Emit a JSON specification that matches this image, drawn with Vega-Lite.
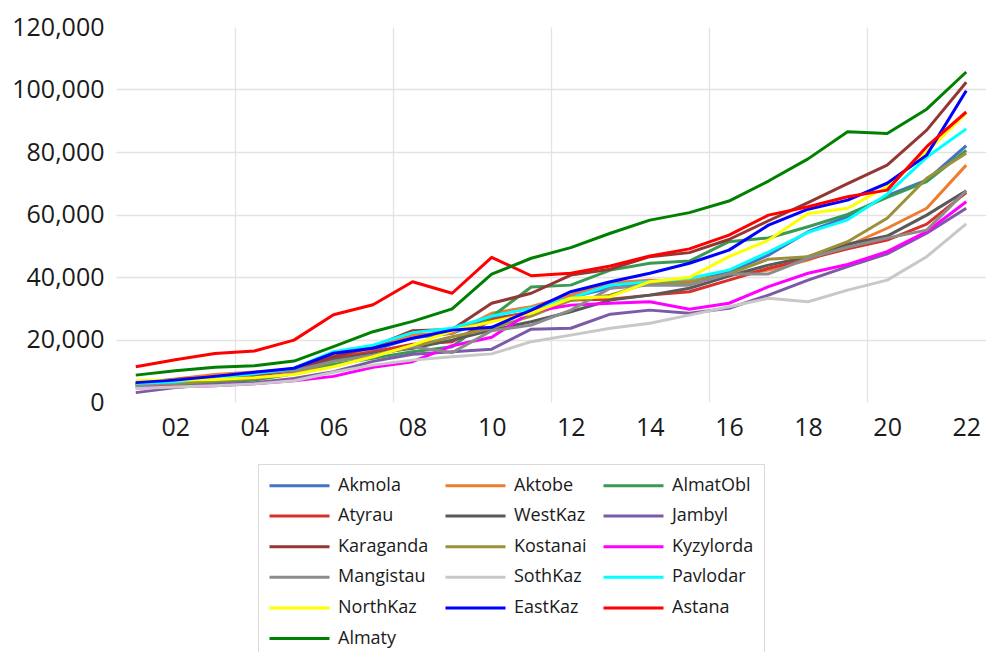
{
"$schema": "https://vega.github.io/schema/vega-lite/v6.json",
"width": 870, "height": 375,
"autosize": {"type": "none"},
"padding": {"left": 116, "top": 27, "right": 0, "bottom": 250},
"background": "white",
"config": {"view": {"stroke": null}, "font": "Open Sans"},
"datasets": {"d": [
{"r":"Akmola","y":2001,"v":5800},{"r":"Akmola","y":2002,"v":6800},{"r":"Akmola","y":2003,"v":7700},{"r":"Akmola","y":2004,"v":8800},{"r":"Akmola","y":2005,"v":10000},{"r":"Akmola","y":2006,"v":14000},{"r":"Akmola","y":2007,"v":16500},{"r":"Akmola","y":2008,"v":20500},{"r":"Akmola","y":2009,"v":22000},{"r":"Akmola","y":2010,"v":26800},{"r":"Akmola","y":2011,"v":28500},{"r":"Akmola","y":2012,"v":33500},{"r":"Akmola","y":2013,"v":36500},{"r":"Akmola","y":2014,"v":38000},{"r":"Akmola","y":2015,"v":38500},{"r":"Akmola","y":2016,"v":41500},{"r":"Akmola","y":2017,"v":47000},{"r":"Akmola","y":2018,"v":54500},{"r":"Akmola","y":2019,"v":59300},{"r":"Akmola","y":2020,"v":66000},{"r":"Akmola","y":2021,"v":71000},{"r":"Akmola","y":2022,"v":82000},
{"r":"Aktobe","y":2001,"v":6000},{"r":"Aktobe","y":2002,"v":7400},{"r":"Aktobe","y":2003,"v":8800},{"r":"Aktobe","y":2004,"v":9600},{"r":"Aktobe","y":2005,"v":10500},{"r":"Aktobe","y":2006,"v":14500},{"r":"Aktobe","y":2007,"v":17000},{"r":"Aktobe","y":2008,"v":21500},{"r":"Aktobe","y":2009,"v":22000},{"r":"Aktobe","y":2010,"v":28400},{"r":"Aktobe","y":2011,"v":30500},{"r":"Aktobe","y":2012,"v":34200},{"r":"Aktobe","y":2013,"v":38200},{"r":"Aktobe","y":2014,"v":39000},{"r":"Aktobe","y":2015,"v":38800},{"r":"Aktobe","y":2016,"v":40600},{"r":"Aktobe","y":2017,"v":42200},{"r":"Aktobe","y":2018,"v":45400},{"r":"Aktobe","y":2019,"v":50000},{"r":"Aktobe","y":2020,"v":55600},{"r":"Aktobe","y":2021,"v":62000},{"r":"Aktobe","y":2022,"v":75800},
{"r":"AlmatObl","y":2001,"v":5000},{"r":"AlmatObl","y":2002,"v":5500},{"r":"AlmatObl","y":2003,"v":6200},{"r":"AlmatObl","y":2004,"v":7000},{"r":"AlmatObl","y":2005,"v":9000},{"r":"AlmatObl","y":2006,"v":12000},{"r":"AlmatObl","y":2007,"v":14000},{"r":"AlmatObl","y":2008,"v":16100},{"r":"AlmatObl","y":2009,"v":17700},{"r":"AlmatObl","y":2010,"v":27300},{"r":"AlmatObl","y":2011,"v":36800},{"r":"AlmatObl","y":2012,"v":37400},{"r":"AlmatObl","y":2013,"v":42200},{"r":"AlmatObl","y":2014,"v":44400},{"r":"AlmatObl","y":2015,"v":45100},{"r":"AlmatObl","y":2016,"v":51300},{"r":"AlmatObl","y":2017,"v":52500},{"r":"AlmatObl","y":2018,"v":56100},{"r":"AlmatObl","y":2019,"v":60000},{"r":"AlmatObl","y":2020,"v":65500},{"r":"AlmatObl","y":2021,"v":70500},{"r":"AlmatObl","y":2022,"v":80500},
{"r":"Atyrau","y":2001,"v":5800},{"r":"Atyrau","y":2002,"v":6500},{"r":"Atyrau","y":2003,"v":7500},{"r":"Atyrau","y":2004,"v":8500},{"r":"Atyrau","y":2005,"v":10000},{"r":"Atyrau","y":2006,"v":14000},{"r":"Atyrau","y":2007,"v":16000},{"r":"Atyrau","y":2008,"v":18500},{"r":"Atyrau","y":2009,"v":19300},{"r":"Atyrau","y":2010,"v":26200},{"r":"Atyrau","y":2011,"v":29000},{"r":"Atyrau","y":2012,"v":32600},{"r":"Atyrau","y":2013,"v":32900},{"r":"Atyrau","y":2014,"v":34200},{"r":"Atyrau","y":2015,"v":35300},{"r":"Atyrau","y":2016,"v":39000},{"r":"Atyrau","y":2017,"v":42800},{"r":"Atyrau","y":2018,"v":45800},{"r":"Atyrau","y":2019,"v":49000},{"r":"Atyrau","y":2020,"v":51800},{"r":"Atyrau","y":2021,"v":56900},{"r":"Atyrau","y":2022,"v":67000},
{"r":"WestKaz","y":2001,"v":5500},{"r":"WestKaz","y":2002,"v":6700},{"r":"WestKaz","y":2003,"v":7800},{"r":"WestKaz","y":2004,"v":9000},{"r":"WestKaz","y":2005,"v":10200},{"r":"WestKaz","y":2006,"v":13500},{"r":"WestKaz","y":2007,"v":15500},{"r":"WestKaz","y":2008,"v":17200},{"r":"WestKaz","y":2009,"v":19800},{"r":"WestKaz","y":2010,"v":23000},{"r":"WestKaz","y":2011,"v":25700},{"r":"WestKaz","y":2012,"v":28900},{"r":"WestKaz","y":2013,"v":32600},{"r":"WestKaz","y":2014,"v":34200},{"r":"WestKaz","y":2015,"v":36400},{"r":"WestKaz","y":2016,"v":40300},{"r":"WestKaz","y":2017,"v":43800},{"r":"WestKaz","y":2018,"v":46500},{"r":"WestKaz","y":2019,"v":50500},{"r":"WestKaz","y":2020,"v":53100},{"r":"WestKaz","y":2021,"v":59800},{"r":"WestKaz","y":2022,"v":67600},
{"r":"Jambyl","y":2001,"v":3000},{"r":"Jambyl","y":2002,"v":4600},{"r":"Jambyl","y":2003,"v":5600},{"r":"Jambyl","y":2004,"v":6200},{"r":"Jambyl","y":2005,"v":7500},{"r":"Jambyl","y":2006,"v":9700},{"r":"Jambyl","y":2007,"v":13000},{"r":"Jambyl","y":2008,"v":15300},{"r":"Jambyl","y":2009,"v":16100},{"r":"Jambyl","y":2010,"v":16900},{"r":"Jambyl","y":2011,"v":23300},{"r":"Jambyl","y":2012,"v":23600},{"r":"Jambyl","y":2013,"v":28100},{"r":"Jambyl","y":2014,"v":29400},{"r":"Jambyl","y":2015,"v":28400},{"r":"Jambyl","y":2016,"v":30000},{"r":"Jambyl","y":2017,"v":34200},{"r":"Jambyl","y":2018,"v":39000},{"r":"Jambyl","y":2019,"v":43300},{"r":"Jambyl","y":2020,"v":47400},{"r":"Jambyl","y":2021,"v":54000},{"r":"Jambyl","y":2022,"v":62000},
{"r":"Karaganda","y":2001,"v":6000},{"r":"Karaganda","y":2002,"v":7200},{"r":"Karaganda","y":2003,"v":8000},{"r":"Karaganda","y":2004,"v":9000},{"r":"Karaganda","y":2005,"v":10500},{"r":"Karaganda","y":2006,"v":14500},{"r":"Karaganda","y":2007,"v":17700},{"r":"Karaganda","y":2008,"v":22800},{"r":"Karaganda","y":2009,"v":23200},{"r":"Karaganda","y":2010,"v":31600},{"r":"Karaganda","y":2011,"v":34800},{"r":"Karaganda","y":2012,"v":40600},{"r":"Karaganda","y":2013,"v":42500},{"r":"Karaganda","y":2014,"v":46500},{"r":"Karaganda","y":2015,"v":47800},{"r":"Karaganda","y":2016,"v":52000},{"r":"Karaganda","y":2017,"v":58000},{"r":"Karaganda","y":2018,"v":63800},{"r":"Karaganda","y":2019,"v":69900},{"r":"Karaganda","y":2020,"v":75800},{"r":"Karaganda","y":2021,"v":87000},{"r":"Karaganda","y":2022,"v":102300},
{"r":"Kostanai","y":2001,"v":5200},{"r":"Kostanai","y":2002,"v":5800},{"r":"Kostanai","y":2003,"v":6800},{"r":"Kostanai","y":2004,"v":7500},{"r":"Kostanai","y":2005,"v":9000},{"r":"Kostanai","y":2006,"v":13000},{"r":"Kostanai","y":2007,"v":15000},{"r":"Kostanai","y":2008,"v":17700},{"r":"Kostanai","y":2009,"v":20900},{"r":"Kostanai","y":2010,"v":23600},{"r":"Kostanai","y":2011,"v":27500},{"r":"Kostanai","y":2012,"v":32500},{"r":"Kostanai","y":2013,"v":34200},{"r":"Kostanai","y":2014,"v":38200},{"r":"Kostanai","y":2015,"v":38200},{"r":"Kostanai","y":2016,"v":41000},{"r":"Kostanai","y":2017,"v":45700},{"r":"Kostanai","y":2018,"v":46500},{"r":"Kostanai","y":2019,"v":51300},{"r":"Kostanai","y":2020,"v":58800},{"r":"Kostanai","y":2021,"v":71600},{"r":"Kostanai","y":2022,"v":79600},
{"r":"Kyzylorda","y":2001,"v":4500},{"r":"Kyzylorda","y":2002,"v":4900},{"r":"Kyzylorda","y":2003,"v":5200},{"r":"Kyzylorda","y":2004,"v":5800},{"r":"Kyzylorda","y":2005,"v":6800},{"r":"Kyzylorda","y":2006,"v":8200},{"r":"Kyzylorda","y":2007,"v":11100},{"r":"Kyzylorda","y":2008,"v":12900},{"r":"Kyzylorda","y":2009,"v":18000},{"r":"Kyzylorda","y":2010,"v":20700},{"r":"Kyzylorda","y":2011,"v":28900},{"r":"Kyzylorda","y":2012,"v":31000},{"r":"Kyzylorda","y":2013,"v":31600},{"r":"Kyzylorda","y":2014,"v":32100},{"r":"Kyzylorda","y":2015,"v":29700},{"r":"Kyzylorda","y":2016,"v":31600},{"r":"Kyzylorda","y":2017,"v":36900},{"r":"Kyzylorda","y":2018,"v":41200},{"r":"Kyzylorda","y":2019,"v":44000},{"r":"Kyzylorda","y":2020,"v":48100},{"r":"Kyzylorda","y":2021,"v":54500},{"r":"Kyzylorda","y":2022,"v":64100},
{"r":"Mangistau","y":2001,"v":5300},{"r":"Mangistau","y":2002,"v":6400},{"r":"Mangistau","y":2003,"v":8000},{"r":"Mangistau","y":2004,"v":9200},{"r":"Mangistau","y":2005,"v":10000},{"r":"Mangistau","y":2006,"v":13000},{"r":"Mangistau","y":2007,"v":15000},{"r":"Mangistau","y":2008,"v":17700},{"r":"Mangistau","y":2009,"v":15800},{"r":"Mangistau","y":2010,"v":22800},{"r":"Mangistau","y":2011,"v":24600},{"r":"Mangistau","y":2012,"v":29400},{"r":"Mangistau","y":2013,"v":36400},{"r":"Mangistau","y":2014,"v":37400},{"r":"Mangistau","y":2015,"v":37400},{"r":"Mangistau","y":2016,"v":41000},{"r":"Mangistau","y":2017,"v":41000},{"r":"Mangistau","y":2018,"v":46000},{"r":"Mangistau","y":2019,"v":49500},{"r":"Mangistau","y":2020,"v":52500},{"r":"Mangistau","y":2021,"v":55000},{"r":"Mangistau","y":2022,"v":67600},
{"r":"SothKaz","y":2001,"v":4300},{"r":"SothKaz","y":2002,"v":4800},{"r":"SothKaz","y":2003,"v":5200},{"r":"SothKaz","y":2004,"v":5800},{"r":"SothKaz","y":2005,"v":6800},{"r":"SothKaz","y":2006,"v":9500},{"r":"SothKaz","y":2007,"v":11800},{"r":"SothKaz","y":2008,"v":13400},{"r":"SothKaz","y":2009,"v":14500},{"r":"SothKaz","y":2010,"v":15400},{"r":"SothKaz","y":2011,"v":19300},{"r":"SothKaz","y":2012,"v":21400},{"r":"SothKaz","y":2013,"v":23600},{"r":"SothKaz","y":2014,"v":25200},{"r":"SothKaz","y":2015,"v":27800},{"r":"SothKaz","y":2016,"v":30500},{"r":"SothKaz","y":2017,"v":33200},{"r":"SothKaz","y":2018,"v":32100},{"r":"SothKaz","y":2019,"v":35800},{"r":"SothKaz","y":2020,"v":39000},{"r":"SothKaz","y":2021,"v":46500},{"r":"SothKaz","y":2022,"v":57000},
{"r":"Pavlodar","y":2001,"v":6000},{"r":"Pavlodar","y":2002,"v":6500},{"r":"Pavlodar","y":2003,"v":7800},{"r":"Pavlodar","y":2004,"v":9000},{"r":"Pavlodar","y":2005,"v":10800},{"r":"Pavlodar","y":2006,"v":16100},{"r":"Pavlodar","y":2007,"v":18200},{"r":"Pavlodar","y":2008,"v":22200},{"r":"Pavlodar","y":2009,"v":23600},{"r":"Pavlodar","y":2010,"v":27500},{"r":"Pavlodar","y":2011,"v":30000},{"r":"Pavlodar","y":2012,"v":33200},{"r":"Pavlodar","y":2013,"v":37400},{"r":"Pavlodar","y":2014,"v":38500},{"r":"Pavlodar","y":2015,"v":39600},{"r":"Pavlodar","y":2016,"v":42200},{"r":"Pavlodar","y":2017,"v":48000},{"r":"Pavlodar","y":2018,"v":54300},{"r":"Pavlodar","y":2019,"v":58300},{"r":"Pavlodar","y":2020,"v":66500},{"r":"Pavlodar","y":2021,"v":78300},{"r":"Pavlodar","y":2022,"v":87400},
{"r":"NorthKaz","y":2001,"v":6900},{"r":"NorthKaz","y":2002,"v":7000},{"r":"NorthKaz","y":2003,"v":7200},{"r":"NorthKaz","y":2004,"v":7800},{"r":"NorthKaz","y":2005,"v":8800},{"r":"NorthKaz","y":2006,"v":11300},{"r":"NorthKaz","y":2007,"v":14500},{"r":"NorthKaz","y":2008,"v":18200},{"r":"NorthKaz","y":2009,"v":22800},{"r":"NorthKaz","y":2010,"v":25700},{"r":"NorthKaz","y":2011,"v":28400},{"r":"NorthKaz","y":2012,"v":33200},{"r":"NorthKaz","y":2013,"v":33700},{"r":"NorthKaz","y":2014,"v":38500},{"r":"NorthKaz","y":2015,"v":39900},{"r":"NorthKaz","y":2016,"v":46500},{"r":"NorthKaz","y":2017,"v":51800},{"r":"NorthKaz","y":2018,"v":60300},{"r":"NorthKaz","y":2019,"v":62000},{"r":"NorthKaz","y":2020,"v":68900},{"r":"NorthKaz","y":2021,"v":80000},{"r":"NorthKaz","y":2022,"v":92400},
{"r":"EastKaz","y":2001,"v":6200},{"r":"EastKaz","y":2002,"v":7000},{"r":"EastKaz","y":2003,"v":8200},{"r":"EastKaz","y":2004,"v":9500},{"r":"EastKaz","y":2005,"v":10800},{"r":"EastKaz","y":2006,"v":15600},{"r":"EastKaz","y":2007,"v":17200},{"r":"EastKaz","y":2008,"v":20400},{"r":"EastKaz","y":2009,"v":23000},{"r":"EastKaz","y":2010,"v":23900},{"r":"EastKaz","y":2011,"v":29400},{"r":"EastKaz","y":2012,"v":35300},{"r":"EastKaz","y":2013,"v":38500},{"r":"EastKaz","y":2014,"v":41200},{"r":"EastKaz","y":2015,"v":44400},{"r":"EastKaz","y":2016,"v":48600},{"r":"EastKaz","y":2017,"v":56600},{"r":"EastKaz","y":2018,"v":61700},{"r":"EastKaz","y":2019,"v":64600},{"r":"EastKaz","y":2020,"v":70000},{"r":"EastKaz","y":2021,"v":79000},{"r":"EastKaz","y":2022,"v":99600},
{"r":"Astana","y":2001,"v":11300},{"r":"Astana","y":2002,"v":13500},{"r":"Astana","y":2003,"v":15500},{"r":"Astana","y":2004,"v":16300},{"r":"Astana","y":2005,"v":19800},{"r":"Astana","y":2006,"v":27900},{"r":"Astana","y":2007,"v":31100},{"r":"Astana","y":2008,"v":38500},{"r":"Astana","y":2009,"v":34800},{"r":"Astana","y":2010,"v":46300},{"r":"Astana","y":2011,"v":40400},{"r":"Astana","y":2012,"v":41200},{"r":"Astana","y":2013,"v":43500},{"r":"Astana","y":2014,"v":46700},{"r":"Astana","y":2015,"v":49000},{"r":"Astana","y":2016,"v":53400},{"r":"Astana","y":2017,"v":59800},{"r":"Astana","y":2018,"v":62500},{"r":"Astana","y":2019,"v":65700},{"r":"Astana","y":2020,"v":67800},{"r":"Astana","y":2021,"v":81700},{"r":"Astana","y":2022,"v":92800},
{"r":"Almaty","y":2001,"v":8600},{"r":"Almaty","y":2002,"v":10000},{"r":"Almaty","y":2003,"v":11100},{"r":"Almaty","y":2004,"v":11600},{"r":"Almaty","y":2005,"v":13100},{"r":"Almaty","y":2006,"v":17700},{"r":"Almaty","y":2007,"v":22500},{"r":"Almaty","y":2008,"v":25800},{"r":"Almaty","y":2009,"v":29800},{"r":"Almaty","y":2010,"v":40900},{"r":"Almaty","y":2011,"v":46000},{"r":"Almaty","y":2012,"v":49400},{"r":"Almaty","y":2013,"v":54000},{"r":"Almaty","y":2014,"v":58200},{"r":"Almaty","y":2015,"v":60600},{"r":"Almaty","y":2016,"v":64300},{"r":"Almaty","y":2017,"v":70700},{"r":"Almaty","y":2018,"v":77800},{"r":"Almaty","y":2019,"v":86500},{"r":"Almaty","y":2020,"v":85900},{"r":"Almaty","y":2021,"v":93700},{"r":"Almaty","y":2022,"v":105600}
]},
"data": {"name": "d"},
"mark": {"type": "line", "strokeWidth": 3, "strokeJoin": "round"},
"encoding": {
  "x": {"field": "y", "type": "quantitative",
    "scale": {"domain": [2000.5, 2022.5], "nice": false, "zero": false},
    "axis": {"title": null, "values": [2002, 2003.5, 2004, 2006, 2007.5, 2008, 2010, 2011.5, 2012, 2014, 2015.5, 2016, 2018, 2019.5, 2020, 2022],
      "labelExpr": "datum.value % 1 == 0 ? format(datum.value % 100, '02d') : ''",
      "labelOverlap": false, "labelFlush": false, "labelFontSize": 25, "labelColor": "#1a1a1a", "labelPadding": 13,
      "ticks": false, "domain": false, "grid": true, "gridColor": "#e3e3e3", "gridWidth": 1.3,
      "gridOpacity": {"condition": {"test": "datum.value % 1 == 0", "value": 0}, "value": 1}}},
  "y": {"field": "v", "type": "quantitative",
    "scale": {"domain": [0, 120000], "nice": false},
    "axis": {"title": null, "values": [0, 20000, 40000, 60000, 80000, 100000, 120000], "format": ",d",
      "labelFontSize": 25, "labelColor": "#1a1a1a", "labelPadding": 12, "ticks": false, "domain": false,
      "gridColor": "#e3e3e3", "gridWidth": 1.3,
      "gridOpacity": {"condition": {"test": "datum.value == 0 || datum.value == 120000", "value": 0}, "value": 1}}},
  "color": {"field": "r", "type": "nominal",
    "scale": {"domain": ["Akmola","Aktobe","AlmatObl","Atyrau","WestKaz","Jambyl","Karaganda","Kostanai","Kyzylorda","Mangistau","SothKaz","Pavlodar","NorthKaz","EastKaz","Astana","Almaty"],
      "range": ["#4472C4","#ED7D31","#3A9A52","#D9302C","#595959","#7B5BA8","#943634","#9C9038","#FF00FF","#8C8C8C","#C8C8C8","#00FFFF","#FFFF00","#0000FF","#FF0000","#008000"]},
    "legend": {"title": null, "orient": "none", "legendX": 142, "legendY": 437, "direction": "horizontal", "columns": 3,
      "symbolType": "M-3,0H3", "symbolSize": 400, "symbolStrokeWidth": 3, "symbolOffset": 20,
      "labelFontSize": 18, "labelFont": "Open Sans", "labelColor": "#1a1a1a", "labelOffset": 27, "labelLimit": 300,
      "padding": 10, "strokeColor": "#d9d9d9", "fillColor": "white", "columnPadding": 10, "rowPadding": 9.6}}
}
}
